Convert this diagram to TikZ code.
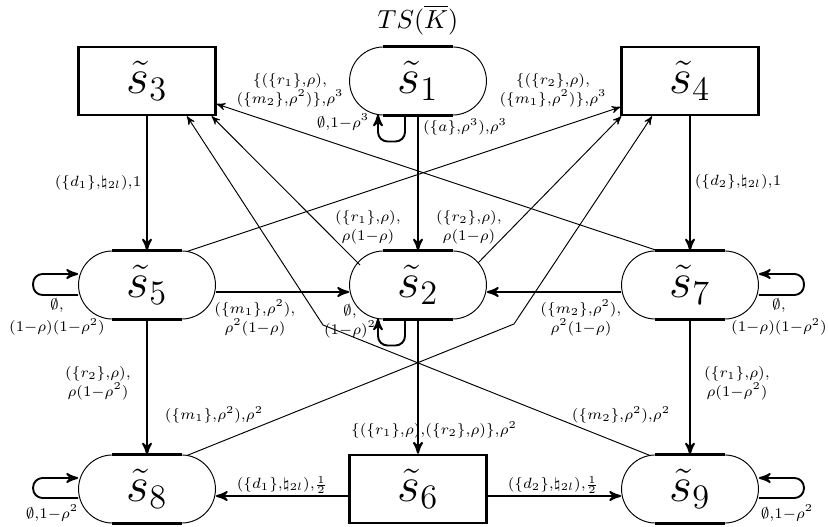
\documentclass[tikz,border=0pt]{standalone}
\usepackage{graphicx}
\usepackage{amsmath}
\usepackage{amssymb}
\usepackage{tikz}
\usetikzlibrary{arrows,calc,positioning,shapes.misc}
\tikzset{
    tsgraph/.style={>=stealth', x=0.42pt, y=-0.42pt},
    oval/.style={rounded rectangle, draw, line width=0.4pt, minimum width=57.5pt,
                 minimum height=28.6pt, inner sep=0pt},
    boxstate/.style={rectangle, draw, line width=1pt, minimum width=57.5pt,
                 minimum height=28.6pt, inner sep=0pt},
    flatpart/.style={line width=1pt},
    axisedge/.style={->, line width=0.8pt},
    diagedge/.style={->, line width=0.4pt},
    loopedge/.style={->, line width=0.8pt, rounded corners=4pt},
    tlabel/.style={font=\fontsize{10}{8}\selectfont, align=center, inner sep=0pt},
    }
\newcommand{\stname}[1]{{\huge$\tilde{s}_{#1}$}}
\newcommand{\trl}[1]{\scalebox{0.89}{$\scriptstyle #1$}}

\begin{document}
\begin{tikzpicture}[tsgraph]
            \useasboundingbox (0,0) rectangle (828,527);
            \node[font=\fontsize{11}{13}\selectfont] (title) at (418,20) {$TS(\overline{K})$};

            \node[boxstate] (s3) at (147,81) {\stname{3}};
            \node[oval] (s1) at (418,81) {\stname{1}};
            \node[boxstate] (s4) at (690,81) {\stname{4}};
            \node[oval] (s5) at (147,285) {\stname{5}};
            \node[oval] (s2) at (418,285) {\stname{2}};
            \node[oval] (s7) at (690,285) {\stname{7}};
            \node[oval] (s8) at (147,489) {\stname{8}};
            \node[boxstate] (s6) at (418,489) {\stname{6}};
            \node[oval] (s9) at (690,489) {\stname{9}};

            \foreach \n in {s1,s2,s5,s7,s8,s9} {
                \draw[flatpart] ($(\n.north)+(-35,0)$) -- ($(\n.north)+(35,0)$);
                \draw[flatpart] ($(\n.south)+(-35,0)$) -- ($(\n.south)+(35,0)$);
            }

            \coordinate (kinkL) at (323,325);
            \coordinate (kinkR) at (514,324);

            \path[axisedge] (s3) edge[] (s5);
            \path[axisedge] (s1) edge[] (s2);
            \path[axisedge] (s4) edge[] (s7);
            \path[axisedge] (s5) edge[] (s8);
            \path[axisedge] (s2) edge[] (s6);
            \path[axisedge] (s7) edge[] (s9);
            \path[axisedge] ($(s5.east)+(0,7)$) edge[] ($(s2.west)+(0,7)$);
            \path[axisedge] ($(s7.west)+(0,7)$) edge[] ($(s2.east)+(0,7)$);
            \path[axisedge] ($(s6.west)+(0,7)$) edge[] ($(s8.east)+(0,7)$);
            \path[axisedge] ($(s6.east)+(0,7)$) edge[] ($(s9.west)+(0,7)$);

            \path[diagedge] ($(s7.north)+(-33,0)$) edge[] ($(s3.east)+(0,23)$);
            \path[diagedge] ($(s5.north)+(40,1)$) edge[] ($(s4.west)+(0,26)$);
            \path[diagedge] ($(s2.center)+(-58,-20)$) edge[] ($(s3.south east)+(-5,0)$);
            \path[diagedge] ($(s2.center)+(60,-22)$) edge[] ($(s4.south west)+(1,0)$);
            \draw[diagedge] ($(s9.north)+(-40,1)$) -- (kinkL) -- ($(s3.south)+(40,0)$);
            \draw[diagedge] ($(s8.north)+(40,1)$) -- (kinkR) -- ($(s4.south)+(-38,0)$);

            \draw[loopedge] ($(s1.south)+(-13,0)$) -- ++(0,26) -- ++(-27,0) -- ($(s1.south)+(-40,-1)$);
            \draw[loopedge] ($(s2.south)+(-13,0)$) -- ++(0,26) -- ++(-27,0) -- ($(s2.south)+(-40,-1)$);
            \draw[loopedge] ($(s5.west)+(0,10)$) -- ++(-45,0) -- ++(0,-21) -- ($(s5.west)+(0,-11)$);
            \draw[loopedge] ($(s7.east)+(0,10)$) -- ++(45,0) -- ++(0,-21) -- ($(s7.east)+(0,-11)$);
            \draw[loopedge] ($(s8.west)+(0,9)$) -- ++(-45,0) -- ++(0,-20) -- ($(s8.west)+(0,-11)$);
            \draw[loopedge] ($(s9.east)+(0,9)$) -- ++(45,0) -- ++(0,-20) -- ($(s9.east)+(0,-11)$);

            \node[tlabel] (l13) at (290,90) {\trl{\{(\{r_1\},\rho),}\\\trl{(\{m_2\},\rho^2)\},\rho^3}};
            \node[tlabel] (l14) at (553,90) {\trl{\{(\{r_2\},\rho),}\\\trl{(\{m_1\},\rho^2)\},\rho^3}};
            \node[tlabel] (l11) at (343,122) {\trl{\emptyset,1-\rho^3}};
            \node[tlabel] (l12) at (465,127) {\trl{(\{a\},\rho^3),\rho^3}};
            \node[tlabel] (l35) at (98,183) {\trl{(\{d_1\},\natural_{2l}),1}};
            \node[tlabel] (l47) at (738,182) {\trl{(\{d_2\},\natural_{2l}),1}};
            \node[tlabel] (l23) at (368,227) {\trl{(\{r_1\},\rho),}\\\trl{\rho(1-\rho)}};
            \node[tlabel] (l24) at (469,227) {\trl{(\{r_2\},\rho),}\\\trl{\rho(1-\rho)}};
            \node[tlabel] (l55) at (57,317) {\trl{\emptyset,}\\[1pt]\trl{(1-\rho)(1-\rho^2)}};
            \node[tlabel] (l77) at (779,317) {\trl{\emptyset,}\\[1pt]\trl{(1-\rho)(1-\rho^2)}};
            \node[tlabel] (l52) at (255,318) {\trl{(\{m_1\},\rho^2),}\\\trl{\rho^2(1-\rho)}};
            \node[tlabel] (l72) at (581,318) {\trl{(\{m_2\},\rho^2),}\\\trl{\rho^2(1-\rho)}};
            \node[tlabel] (l22) at (350,321) {\trl{\emptyset,}\\\trl{(1-\rho)^2}};
            \node[tlabel] (l58) at (98,383) {\trl{(\{r_2\},\rho),}\\\trl{\rho(1-\rho^2)}};
            \node[tlabel] (l79) at (737,383) {\trl{(\{r_1\},\rho),}\\\trl{\rho(1-\rho^2)}};
            \node[tlabel] (l84) at (214,415) {\trl{(\{m_1\},\rho^2),\rho^2}};
            \node[tlabel] (l93) at (621,415) {\trl{(\{m_2\},\rho^2),\rho^2}};
            \node[tlabel] (l26) at (434,430) {\trl{\{(\{r_1\},\rho),(\{r_2\},\rho)\},\rho^2}};
            \node[tlabel] (l68) at (282,485) {\trl{(\{d_1\},\natural_{2l}),\frac{1}{2}}};
            \node[tlabel] (l69) at (553,485) {\trl{(\{d_2\},\natural_{2l}),\frac{1}{2}}};
            \node[tlabel] (l88) at (52,513) {\trl{\emptyset,1-\rho^2}};
            \node[tlabel] (l99) at (787,513) {\trl{\emptyset,1-\rho^2}};
        \end{tikzpicture}
\end{document}
